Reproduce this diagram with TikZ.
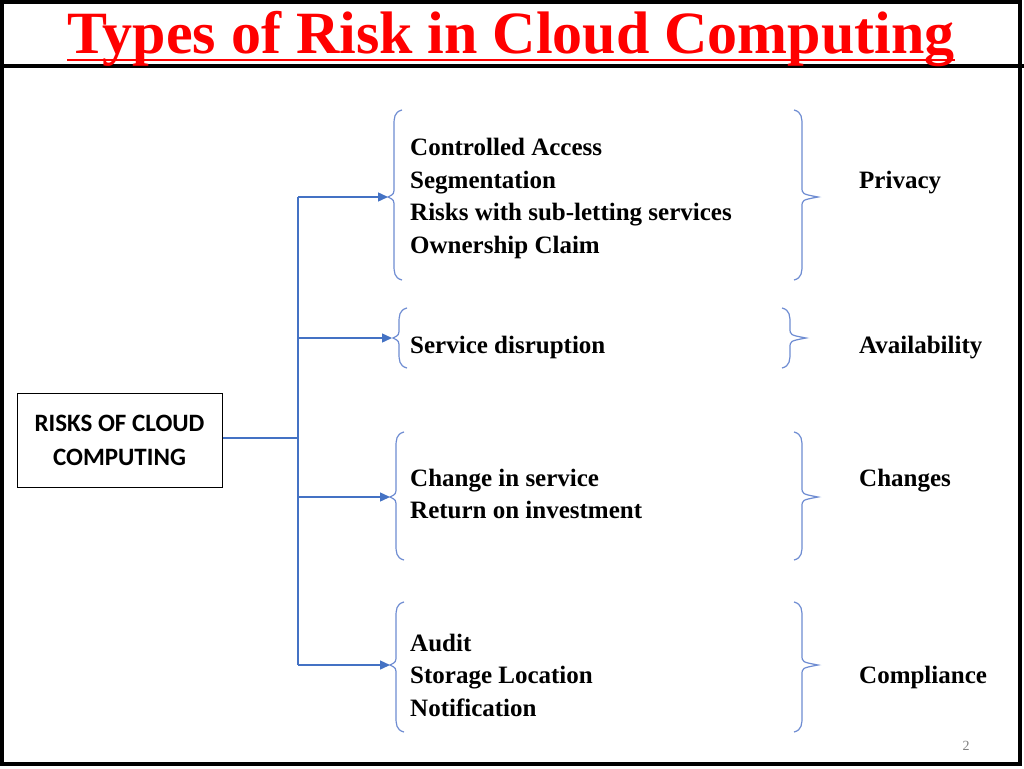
\documentclass[tikz,border=0pt]{standalone}
\usepackage{fontspec}
\setmainfont{Liberation Serif}
\newfontfamily\boxfont{Carlito}
\usetikzlibrary{arrows.meta}
\definecolor{lb}{RGB}{68,114,196}
\definecolor{br}{RGB}{110,140,210}
\begin{document}
\begin{tikzpicture}[x=1pt,y=-1pt,
  item/.style={anchor=base west,inner sep=0,font=\fontsize{25}{25}\selectfont\bfseries},
  conn/.style={draw=lb,line width=1.4pt},
  arr/.style={conn,-{Triangle[length=10pt,width=9pt]}},
  brc/.style={draw=br,line width=1.2pt}]
\useasboundingbox (0,0) rectangle (1024,768);
\fill[white] (0,0) rectangle (1024,768);
\draw[line width=4pt] (2,2) rectangle (1020,764);
\draw[line width=4pt] (0,66) -- (1024,66);
\node[text=red,font=\fontsize{60}{60}\selectfont\bfseries,inner sep=0,anchor=base] (t) at (511,54) {Types of Risk in Cloud Computing};
\draw[red,line width=2.5pt] (t.west|-0,60) -- (t.east|-0,60);
\node[draw,line width=1pt,minimum width=205pt,minimum height=94pt,inner sep=0,align=center,font=\boxfont\fontsize{25}{34}\selectfont\bfseries] (root) at (119.5,440) {RISKS OF CLOUD\\COMPUTING};
\coordinate (j) at (298,438);
\coordinate (v1) at (298,197);\coordinate (v2) at (298,338);\coordinate (v3) at (298,497);\coordinate (v4) at (298,665);
\coordinate (e1) at (388,197);\coordinate (e2) at (392,338);\coordinate (e3) at (390,497);\coordinate (e4) at (390,665);
\draw[conn] (root.east|-j) -- (j);
\draw[conn] (v1) -- (v4);
\foreach \i in {1,2,3,4}{\draw[arr] (v\i) -- (e\i);}
% left braces
\foreach \a/\m/\b/\x in {110/197/280/388, 308/338/368/393, 432/497/560/390, 602/665/732/390}{
  \draw[brc] (\x+14,\a) .. controls (\x+6,\a+2) and (\x+6,\a+8) .. (\x+6,\a+16) -- (\x+6,\m-10) .. controls (\x+6,\m-3) .. (\x,\m)
   .. controls (\x+6,\m+3) .. (\x+6,\m+10) -- (\x+6,\b-16) .. controls (\x+6,\b-8) and (\x+6,\b-2) .. (\x+14,\b);
}
% right braces
\foreach \a/\m/\b/\x in {110/197/280/818, 308/338/368/806, 432/497/560/818, 602/665/732/818}{
  \draw[brc] (\x-24,\a) .. controls (\x-16,\a+2) and (\x-16,\a+8) .. (\x-16,\a+16) -- (\x-16,\m-10) .. controls (\x-16,\m-3) .. (\x,\m)
   .. controls (\x-16,\m+3) .. (\x-16,\m+10) -- (\x-16,\b-16) .. controls (\x-16,\b-8) and (\x-16,\b-2) .. (\x-24,\b);
}
\node[item] (a1) at (410,155) {Controlled Access};
\node[item] (a2) at (410,188) {Segmentation};
\node[item] (a3) at (410,220) {Risks with sub-letting services};
\node[item] (a4) at (410,253) {Ownership Claim};
\node[item] (b1) at (410,353) {Service disruption};
\node[item] (c1) at (410,486) {Change in service};
\node[item] (c2) at (410,518) {Return on investment};
\node[item] (d1) at (410,651) {Audit};
\node[item] (d2) at (410,683) {Storage Location};
\node[item] (d3) at (410,716) {Notification};
\node[item] (p) at (859,188) {Privacy};
\node[item] (q) at (859,353) {Availability};
\node[item] (r) at (859,486) {Changes};
\node[item] (s) at (859,683) {Compliance};
\node[text=gray,font=\fontsize{14}{14}\selectfont,inner sep=0] (n) at (966,746) {2};
\end{tikzpicture}
\end{document}
